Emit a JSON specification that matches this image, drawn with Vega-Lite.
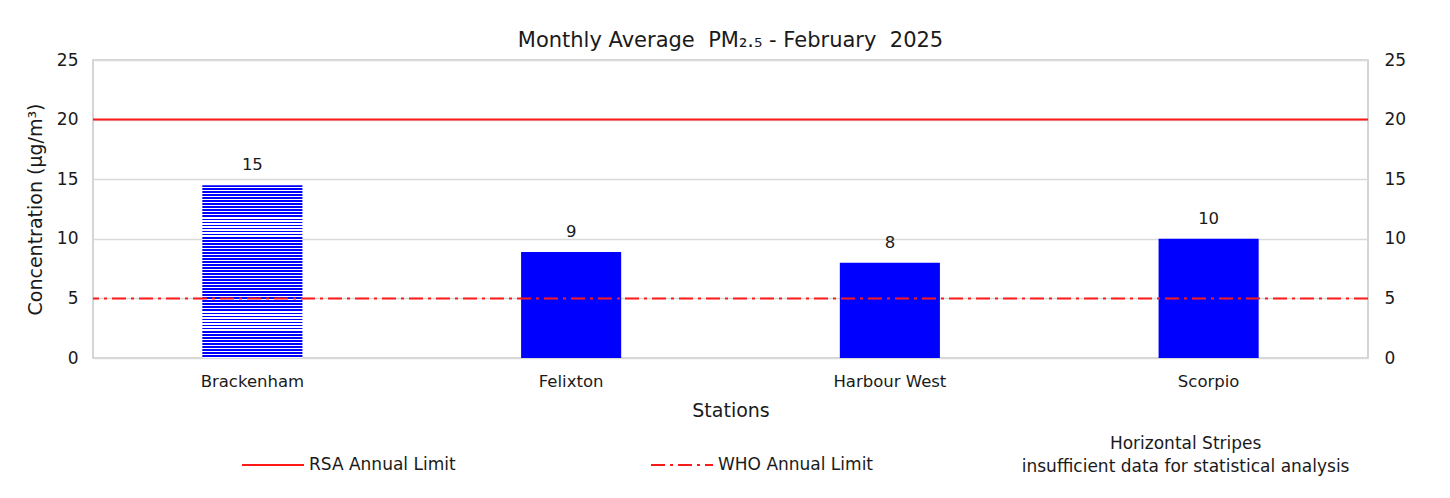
{
  "$schema": "https://vega.github.io/schema/vega-lite/v6.json",
  "width": 1275,
  "height": 298,
  "autosize": {"type": "none"},
  "padding": {"left": 93, "top": 60, "right": 82, "bottom": 140},
  "background": "white",
  "title": {"text": "Monthly Average\u00a0 PM₂.₅ - February\u00a0 2025", "font": "DejaVu Sans", "fontSize": 21, "fontWeight": "normal", "color": "#1a1a1a", "offset": 0, "anchor": "middle"},
  "config": {
    "view": {"stroke": "#c8c8c8", "strokeWidth": 1.5},
    "font": "DejaVu Sans",
    "axis": {"labelFont": "DejaVu Sans", "titleFont": "DejaVu Sans", "labelColor": "#1a1a1a", "titleColor": "#1a1a1a", "titleFontWeight": "normal", "ticks": false, "domain": false},
    "legend": {"labelFont": "DejaVu Sans", "labelColor": "#1a1a1a"}
  },
  "datasets": {
    "stations": [
      {"station": "Brackenham", "pm25": 14.5, "status": "insufficient"},
      {"station": "Felixton", "pm25": 8.9, "status": "valid"},
      {"station": "Harbour West", "pm25": 8.0, "status": "valid"},
      {"station": "Scorpio", "pm25": 10.0, "status": "valid"}
    ],
    "limits": [
      {"limit": "RSA Annual Limit", "value": 20},
      {"limit": "WHO Annual Limit", "value": 5}
    ],
    "notes": [
      {"note": "Horizontal Stripes\ninsufficient data for statistical analysis"}
    ]
  },
  "resolve": {"axis": {"y": "independent"}},
  "layer": [
    {
      "data": {"name": "stations"},
      "transform": [{"filter": "datum.status === 'valid'"}],
      "mark": {"type": "bar", "color": "#0000ff"},
      "encoding": {
        "x": {"field": "station", "type": "nominal", "sort": null,
              "scale": {"domain": ["Brackenham", "Felixton", "Harbour West", "Scorpio"], "paddingInner": 0.686, "paddingOuter": 0.343},
              "axis": {"title": "Stations", "labelAngle": 0, "labelFontSize": 16.5, "labelPadding": 15, "titleFontSize": 19, "titlePadding": 12}},
        "y": {"field": "pm25", "type": "quantitative",
              "scale": {"domain": [0, 25], "nice": false},
              "axis": {"orient": "left", "title": "Concentration (µg/m³)", "values": [0, 5, 10, 15, 20, 25], "labelFontSize": 17, "labelPadding": 15, "titleFontSize": 19, "titlePadding": 11, "grid": true, "gridColor": "#dadada", "gridWidth": 1.5}}
      }
    },
    {
      "data": {"name": "stations"},
      "transform": [{"filter": "datum.status === 'insufficient'"}],
      "mark": {"type": "bar", "color": {"gradient": "linear", "x1": 0, "y1": 0, "x2": 0, "y2": 1, "stops": [
        {"offset": 0, "color": "#0000ff"}, {"offset": 0.0105, "color": "#0000ff"}, {"offset": 0.0105, "color": "#ffffff"}, {"offset": 0.0175, "color": "#ffffff"},
        {"offset": 0.0175, "color": "#0000ff"}, {"offset": 0.0281, "color": "#0000ff"}, {"offset": 0.0281, "color": "#ffffff"}, {"offset": 0.0351, "color": "#ffffff"},
        {"offset": 0.0351, "color": "#0000ff"}, {"offset": 0.0456, "color": "#0000ff"}, {"offset": 0.0456, "color": "#ffffff"}, {"offset": 0.0526, "color": "#ffffff"},
        {"offset": 0.0526, "color": "#0000ff"}, {"offset": 0.0632, "color": "#0000ff"}, {"offset": 0.0632, "color": "#ffffff"}, {"offset": 0.0702, "color": "#ffffff"},
        {"offset": 0.0702, "color": "#0000ff"}, {"offset": 0.0807, "color": "#0000ff"}, {"offset": 0.0807, "color": "#ffffff"}, {"offset": 0.0877, "color": "#ffffff"},
        {"offset": 0.0877, "color": "#0000ff"}, {"offset": 0.0982, "color": "#0000ff"}, {"offset": 0.0982, "color": "#ffffff"}, {"offset": 0.1053, "color": "#ffffff"},
        {"offset": 0.1053, "color": "#0000ff"}, {"offset": 0.1158, "color": "#0000ff"}, {"offset": 0.1158, "color": "#ffffff"}, {"offset": 0.1228, "color": "#ffffff"},
        {"offset": 0.1228, "color": "#0000ff"}, {"offset": 0.1333, "color": "#0000ff"}, {"offset": 0.1333, "color": "#ffffff"}, {"offset": 0.1404, "color": "#ffffff"},
        {"offset": 0.1404, "color": "#0000ff"}, {"offset": 0.1509, "color": "#0000ff"}, {"offset": 0.1509, "color": "#ffffff"}, {"offset": 0.1579, "color": "#ffffff"},
        {"offset": 0.1579, "color": "#0000ff"}, {"offset": 0.1684, "color": "#0000ff"}, {"offset": 0.1684, "color": "#ffffff"}, {"offset": 0.1754, "color": "#ffffff"},
        {"offset": 0.1754, "color": "#0000ff"}, {"offset": 0.1860, "color": "#0000ff"}, {"offset": 0.1860, "color": "#ffffff"}, {"offset": 0.1930, "color": "#ffffff"},
        {"offset": 0.1930, "color": "#0000ff"}, {"offset": 0.2035, "color": "#0000ff"}, {"offset": 0.2035, "color": "#ffffff"}, {"offset": 0.2105, "color": "#ffffff"},
        {"offset": 0.2105, "color": "#0000ff"}, {"offset": 0.2211, "color": "#0000ff"}, {"offset": 0.2211, "color": "#ffffff"}, {"offset": 0.2281, "color": "#ffffff"},
        {"offset": 0.2281, "color": "#0000ff"}, {"offset": 0.2386, "color": "#0000ff"}, {"offset": 0.2386, "color": "#ffffff"}, {"offset": 0.2456, "color": "#ffffff"},
        {"offset": 0.2456, "color": "#0000ff"}, {"offset": 0.2561, "color": "#0000ff"}, {"offset": 0.2561, "color": "#ffffff"}, {"offset": 0.2632, "color": "#ffffff"},
        {"offset": 0.2632, "color": "#0000ff"}, {"offset": 0.2737, "color": "#0000ff"}, {"offset": 0.2737, "color": "#ffffff"}, {"offset": 0.2807, "color": "#ffffff"},
        {"offset": 0.2807, "color": "#0000ff"}, {"offset": 0.2912, "color": "#0000ff"}, {"offset": 0.2912, "color": "#ffffff"}, {"offset": 0.2982, "color": "#ffffff"},
        {"offset": 0.2982, "color": "#0000ff"}, {"offset": 0.3088, "color": "#0000ff"}, {"offset": 0.3088, "color": "#ffffff"}, {"offset": 0.3158, "color": "#ffffff"},
        {"offset": 0.3158, "color": "#0000ff"}, {"offset": 0.3263, "color": "#0000ff"}, {"offset": 0.3263, "color": "#ffffff"}, {"offset": 0.3333, "color": "#ffffff"},
        {"offset": 0.3333, "color": "#0000ff"}, {"offset": 0.3439, "color": "#0000ff"}, {"offset": 0.3439, "color": "#ffffff"}, {"offset": 0.3509, "color": "#ffffff"},
        {"offset": 0.3509, "color": "#0000ff"}, {"offset": 0.3614, "color": "#0000ff"}, {"offset": 0.3614, "color": "#ffffff"}, {"offset": 0.3684, "color": "#ffffff"},
        {"offset": 0.3684, "color": "#0000ff"}, {"offset": 0.3789, "color": "#0000ff"}, {"offset": 0.3789, "color": "#ffffff"}, {"offset": 0.3860, "color": "#ffffff"},
        {"offset": 0.3860, "color": "#0000ff"}, {"offset": 0.3965, "color": "#0000ff"}, {"offset": 0.3965, "color": "#ffffff"}, {"offset": 0.4035, "color": "#ffffff"},
        {"offset": 0.4035, "color": "#0000ff"}, {"offset": 0.4140, "color": "#0000ff"}, {"offset": 0.4140, "color": "#ffffff"}, {"offset": 0.4211, "color": "#ffffff"},
        {"offset": 0.4211, "color": "#0000ff"}, {"offset": 0.4316, "color": "#0000ff"}, {"offset": 0.4316, "color": "#ffffff"}, {"offset": 0.4386, "color": "#ffffff"},
        {"offset": 0.4386, "color": "#0000ff"}, {"offset": 0.4491, "color": "#0000ff"}, {"offset": 0.4491, "color": "#ffffff"}, {"offset": 0.4561, "color": "#ffffff"},
        {"offset": 0.4561, "color": "#0000ff"}, {"offset": 0.4667, "color": "#0000ff"}, {"offset": 0.4667, "color": "#ffffff"}, {"offset": 0.4737, "color": "#ffffff"},
        {"offset": 0.4737, "color": "#0000ff"}, {"offset": 0.4842, "color": "#0000ff"}, {"offset": 0.4842, "color": "#ffffff"}, {"offset": 0.4912, "color": "#ffffff"},
        {"offset": 0.4912, "color": "#0000ff"}, {"offset": 0.5018, "color": "#0000ff"}, {"offset": 0.5018, "color": "#ffffff"}, {"offset": 0.5088, "color": "#ffffff"},
        {"offset": 0.5088, "color": "#0000ff"}, {"offset": 0.5193, "color": "#0000ff"}, {"offset": 0.5193, "color": "#ffffff"}, {"offset": 0.5263, "color": "#ffffff"},
        {"offset": 0.5263, "color": "#0000ff"}, {"offset": 0.5368, "color": "#0000ff"}, {"offset": 0.5368, "color": "#ffffff"}, {"offset": 0.5439, "color": "#ffffff"},
        {"offset": 0.5439, "color": "#0000ff"}, {"offset": 0.5544, "color": "#0000ff"}, {"offset": 0.5544, "color": "#ffffff"}, {"offset": 0.5614, "color": "#ffffff"},
        {"offset": 0.5614, "color": "#0000ff"}, {"offset": 0.5719, "color": "#0000ff"}, {"offset": 0.5719, "color": "#ffffff"}, {"offset": 0.5789, "color": "#ffffff"},
        {"offset": 0.5789, "color": "#0000ff"}, {"offset": 0.5895, "color": "#0000ff"}, {"offset": 0.5895, "color": "#ffffff"}, {"offset": 0.5965, "color": "#ffffff"},
        {"offset": 0.5965, "color": "#0000ff"}, {"offset": 0.6070, "color": "#0000ff"}, {"offset": 0.6070, "color": "#ffffff"}, {"offset": 0.6140, "color": "#ffffff"},
        {"offset": 0.6140, "color": "#0000ff"}, {"offset": 0.6246, "color": "#0000ff"}, {"offset": 0.6246, "color": "#ffffff"}, {"offset": 0.6316, "color": "#ffffff"},
        {"offset": 0.6316, "color": "#0000ff"}, {"offset": 0.6421, "color": "#0000ff"}, {"offset": 0.6421, "color": "#ffffff"}, {"offset": 0.6491, "color": "#ffffff"},
        {"offset": 0.6491, "color": "#0000ff"}, {"offset": 0.6596, "color": "#0000ff"}, {"offset": 0.6596, "color": "#ffffff"}, {"offset": 0.6667, "color": "#ffffff"},
        {"offset": 0.6667, "color": "#0000ff"}, {"offset": 0.6772, "color": "#0000ff"}, {"offset": 0.6772, "color": "#ffffff"}, {"offset": 0.6842, "color": "#ffffff"},
        {"offset": 0.6842, "color": "#0000ff"}, {"offset": 0.6947, "color": "#0000ff"}, {"offset": 0.6947, "color": "#ffffff"}, {"offset": 0.7018, "color": "#ffffff"},
        {"offset": 0.7018, "color": "#0000ff"}, {"offset": 0.7123, "color": "#0000ff"}, {"offset": 0.7123, "color": "#ffffff"}, {"offset": 0.7193, "color": "#ffffff"},
        {"offset": 0.7193, "color": "#0000ff"}, {"offset": 0.7298, "color": "#0000ff"}, {"offset": 0.7298, "color": "#ffffff"}, {"offset": 0.7368, "color": "#ffffff"},
        {"offset": 0.7368, "color": "#0000ff"}, {"offset": 0.7474, "color": "#0000ff"}, {"offset": 0.7474, "color": "#ffffff"}, {"offset": 0.7544, "color": "#ffffff"},
        {"offset": 0.7544, "color": "#0000ff"}, {"offset": 0.7649, "color": "#0000ff"}, {"offset": 0.7649, "color": "#ffffff"}, {"offset": 0.7719, "color": "#ffffff"},
        {"offset": 0.7719, "color": "#0000ff"}, {"offset": 0.7825, "color": "#0000ff"}, {"offset": 0.7825, "color": "#ffffff"}, {"offset": 0.7895, "color": "#ffffff"},
        {"offset": 0.7895, "color": "#0000ff"}, {"offset": 0.8000, "color": "#0000ff"}, {"offset": 0.8000, "color": "#ffffff"}, {"offset": 0.8070, "color": "#ffffff"},
        {"offset": 0.8070, "color": "#0000ff"}, {"offset": 0.8175, "color": "#0000ff"}, {"offset": 0.8175, "color": "#ffffff"}, {"offset": 0.8246, "color": "#ffffff"},
        {"offset": 0.8246, "color": "#0000ff"}, {"offset": 0.8351, "color": "#0000ff"}, {"offset": 0.8351, "color": "#ffffff"}, {"offset": 0.8421, "color": "#ffffff"},
        {"offset": 0.8421, "color": "#0000ff"}, {"offset": 0.8526, "color": "#0000ff"}, {"offset": 0.8526, "color": "#ffffff"}, {"offset": 0.8596, "color": "#ffffff"},
        {"offset": 0.8596, "color": "#0000ff"}, {"offset": 0.8702, "color": "#0000ff"}, {"offset": 0.8702, "color": "#ffffff"}, {"offset": 0.8772, "color": "#ffffff"},
        {"offset": 0.8772, "color": "#0000ff"}, {"offset": 0.8877, "color": "#0000ff"}, {"offset": 0.8877, "color": "#ffffff"}, {"offset": 0.8947, "color": "#ffffff"},
        {"offset": 0.8947, "color": "#0000ff"}, {"offset": 0.9053, "color": "#0000ff"}, {"offset": 0.9053, "color": "#ffffff"}, {"offset": 0.9123, "color": "#ffffff"},
        {"offset": 0.9123, "color": "#0000ff"}, {"offset": 0.9228, "color": "#0000ff"}, {"offset": 0.9228, "color": "#ffffff"}, {"offset": 0.9298, "color": "#ffffff"},
        {"offset": 0.9298, "color": "#0000ff"}, {"offset": 0.9404, "color": "#0000ff"}, {"offset": 0.9404, "color": "#ffffff"}, {"offset": 0.9474, "color": "#ffffff"},
        {"offset": 0.9474, "color": "#0000ff"}, {"offset": 0.9579, "color": "#0000ff"}, {"offset": 0.9579, "color": "#ffffff"}, {"offset": 0.9649, "color": "#ffffff"},
        {"offset": 0.9649, "color": "#0000ff"}, {"offset": 0.9754, "color": "#0000ff"}, {"offset": 0.9754, "color": "#ffffff"}, {"offset": 0.9825, "color": "#ffffff"},
        {"offset": 0.9825, "color": "#0000ff"}, {"offset": 0.9930, "color": "#0000ff"}, {"offset": 0.9930, "color": "#ffffff"}, {"offset": 1, "color": "#ffffff"}
      ]}},
      "encoding": {
        "x": {"field": "station", "type": "nominal", "sort": null},
        "y": {"field": "pm25", "type": "quantitative", "axis": null}
      }
    },
    {
      "data": {"name": "stations"},
      "mark": {"type": "text", "baseline": "alphabetic", "dy": -15, "fontSize": 16.5, "color": "#1a1a1a"},
      "encoding": {
        "x": {"field": "station", "type": "nominal", "sort": null},
        "y": {"field": "pm25", "type": "quantitative", "axis": null},
        "text": {"field": "pm25", "type": "quantitative", "format": ".0f"}
      }
    },
    {
      "data": {"name": "limits"},
      "mark": {"type": "rule", "strokeWidth": 2},
      "encoding": {
        "y": {"field": "value", "type": "quantitative",
              "axis": {"orient": "right", "title": null, "values": [0, 5, 10, 15, 20, 25], "labelFontSize": 17, "labelPadding": 16, "grid": false}},
        "color": {"field": "limit", "type": "nominal",
                  "scale": {"domain": ["RSA Annual Limit", "WHO Annual Limit"], "range": ["#ff1a1a", "#ff1a1a"]},
                  "legend": {"title": null, "orient": "none", "legendX": 148, "legendY": 373, "direction": "horizontal", "symbolType": "stroke", "symbolSize": 3844, "symbolStrokeWidth": 2, "labelFontSize": 17, "labelOffset": 4, "columnPadding": 191, "padding": 0}},
        "strokeDash": {"field": "limit", "type": "nominal",
                       "scale": {"domain": ["RSA Annual Limit", "WHO Annual Limit"], "range": [[1, 0], [14, 5, 3, 5]]},
                       "legend": {"title": null, "orient": "none", "legendX": 148, "legendY": 373, "direction": "horizontal", "symbolType": "stroke", "symbolSize": 3844, "symbolStrokeWidth": 2, "labelFontSize": 17, "labelOffset": 4, "columnPadding": 191, "padding": 0}}
      }
    },
    {
      "data": {"name": "notes"},
      "mark": {"type": "text", "lineBreak": "\n", "align": "center", "baseline": "middle", "fontSize": 17, "lineHeight": 23, "dx": -23, "color": "#1a1a1a"},
      "encoding": {
        "x": {"datum": "Scorpio", "type": "nominal"},
        "y": {"datum": -7.2, "type": "quantitative", "axis": null},
        "text": {"field": "note", "type": "nominal"}
      }
    }
  ]
}
